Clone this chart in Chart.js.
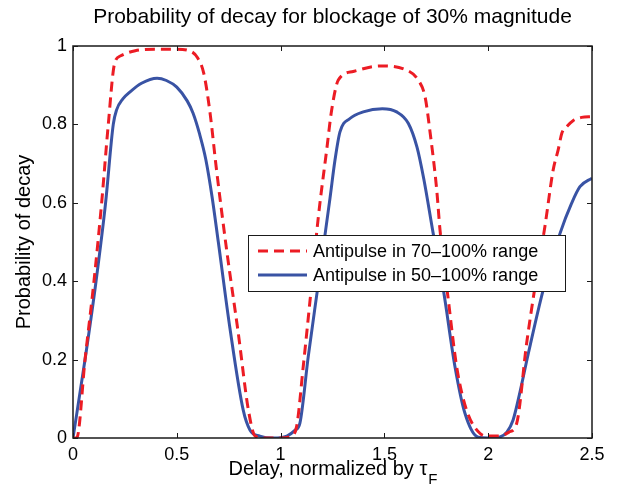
<!DOCTYPE html>
<html lang="en">
  <head>
    <meta charset="UTF-8" />
    <title>Probability of decay for blockage of 30% magnitude</title>
    <script src="https://cdn.jsdelivr.net/npm/chart.js"></script>
    <style>
      html, body {
        margin: 0;
        padding: 0;
        background: #ffffff;
      }
      .chart-wrapper {
        position: relative;
        width: 617px;
        height: 488px;
      }
    </style>
  </head>
  <body>
    <div class="chart-wrapper">
      <canvas id="decayChart" width="617" height="488"></canvas>
    </div>

    <script>
      // data
      const delay70 = [0, 0.018, 0.058, 0.101, 0.138, 0.17, 0.2, 0.23, 0.3, 0.4, 0.5, 0.56, 0.6, 0.63, 0.66, 0.69, 0.74, 0.796, 0.845, 0.877, 0.92, 1.0, 1.05, 1.077, 1.109, 1.142, 1.182, 1.222, 1.246, 1.278, 1.35, 1.48, 1.6, 1.663, 1.696, 1.72, 1.752, 1.768, 1.808, 1.848, 1.896, 1.96, 2.0, 2.057, 2.1, 2.137, 2.185, 2.233, 2.273, 2.313, 2.337, 2.355, 2.38, 2.41, 2.45, 2.5];
      const prob70 = [0, 0, 0.2, 0.4, 0.6, 0.8, 0.955, 0.975, 0.988, 0.992, 0.992, 0.988, 0.97, 0.93, 0.83, 0.69, 0.48, 0.268, 0.071, 0.005, 0, 0, 0.005, 0.029, 0.182, 0.352, 0.565, 0.735, 0.837, 0.913, 0.935, 0.949, 0.94, 0.913, 0.87, 0.78, 0.633, 0.53, 0.352, 0.182, 0.071, 0.012, 0.005, 0.005, 0.015, 0.037, 0.241, 0.411, 0.539, 0.684, 0.735, 0.778, 0.795, 0.81, 0.818, 0.82];

      const delay50 = [0, 0.058, 0.111, 0.157, 0.194, 0.21, 0.24, 0.275, 0.33, 0.405, 0.45, 0.5, 0.55, 0.578, 0.61, 0.64, 0.67, 0.7, 0.756, 0.82, 0.853, 0.9, 0.963, 1.03, 1.07, 1.093, 1.133, 1.182, 1.238, 1.262, 1.286, 1.334, 1.398, 1.49, 1.559, 1.615, 1.657, 1.69, 1.735, 1.784, 1.84, 1.888, 1.952, 2.0, 2.057, 2.09, 2.12, 2.15, 2.193, 2.265, 2.346, 2.402, 2.442, 2.5];
      const prob50 = [0, 0.2, 0.4, 0.6, 0.8, 0.837, 0.865, 0.883, 0.905, 0.918, 0.912, 0.895, 0.86, 0.829, 0.775, 0.71, 0.615, 0.5, 0.28, 0.071, 0.02, 0.005, 0, 0.005, 0.02, 0.038, 0.207, 0.395, 0.612, 0.709, 0.781, 0.815, 0.832, 0.84, 0.832, 0.803, 0.742, 0.66, 0.522, 0.378, 0.182, 0.063, 0.002, 0, 0.003, 0.015, 0.046, 0.11, 0.215, 0.378, 0.522, 0.599, 0.641, 0.663];

      const seriesLabels = ["Antipulse in 70\u2013100% range", "Antipulse in 50\u2013100% range"];
      const xTickValues = [0, 0.5, 1, 1.5, 2, 2.5];
      const yTickValues = [0, 0.2, 0.4, 0.6, 0.8, 1];
      const titleText = "Probability of decay for blockage of 30% magnitude";

      const FONT = "'Liberation Sans', Arial, sans-serif";
      const RED = "#ec1c24";
      const BLUE = "#3953a4";
      const AXIS = "#1a1a1a";

      function toPoints(xs, ys) {
        return xs.map((x, i) => ({ x: x, y: ys[i] }));
      }

      function fmt(v) {
        return String(+Number(v).toFixed(2));
      }

      // MATLAB style box, inward ticks, title over the axes, x label with subscript, legend inside axes
      const axesDecor = {
        id: "axesDecor",
        afterDatasetsDraw(chart) {
          const ctx = chart.ctx;
          const ca = chart.chartArea;
          const xs = chart.scales.x;
          const ys = chart.scales.y;
          const tick = 5;
          const midX = (ca.left + ca.right) / 2;

          ctx.save();
          ctx.strokeStyle = AXIS;
          ctx.lineWidth = 1;
          ctx.beginPath();
          xTickValues.forEach((v) => {
            const px = Math.round(xs.getPixelForValue(v)) + 0.5;
            ctx.moveTo(px, ca.bottom);
            ctx.lineTo(px, ca.bottom - tick);
            ctx.moveTo(px, ca.top);
            ctx.lineTo(px, ca.top + tick);
          });
          yTickValues.forEach((v) => {
            const py = Math.round(ys.getPixelForValue(v)) + 0.5;
            ctx.moveTo(ca.left, py);
            ctx.lineTo(ca.left + tick, py);
            ctx.moveTo(ca.right, py);
            ctx.lineTo(ca.right - tick, py);
          });
          ctx.stroke();
          ctx.lineWidth = 1.5;
          ctx.strokeRect(ca.left, ca.top, ca.right - ca.left, ca.bottom - ca.top);

          // legend box
          const boxW = 317;
          const boxH = 56;
          const boxX = ca.right - 27 - boxW;
          const boxY = ca.top + 189;
          ctx.fillStyle = "#ffffff";
          ctx.fillRect(boxX, boxY, boxW, boxH);
          ctx.lineWidth = 1;
          ctx.strokeStyle = AXIS;
          ctx.strokeRect(boxX + 0.5, boxY + 0.5, boxW, boxH);
          chart.data.datasets.forEach((ds, i) => {
            const cy = boxY + 16 + i * 24;
            ctx.beginPath();
            ctx.strokeStyle = ds.borderColor;
            ctx.lineWidth = ds.borderWidth;
            ctx.setLineDash(ds.borderDash || []);
            ctx.moveTo(boxX + 10, cy);
            ctx.lineTo(boxX + 59, cy);
            ctx.stroke();
            ctx.setLineDash([]);
            ctx.fillStyle = "#000000";
            ctx.font = "18px " + FONT;
            ctx.textBaseline = "middle";
            ctx.textAlign = "left";
            ctx.fillText(ds.label, boxX + 65, cy + 1);
          });

          // title, centred on the axes
          ctx.fillStyle = "#000000";
          ctx.font = "21px " + FONT;
          ctx.textAlign = "center";
          ctx.textBaseline = "middle";
          ctx.fillText(titleText, midX, 17);

          // x axis label: Delay, normalized by tau_F
          const main = "Delay, normalized by \u03c4";
          ctx.font = "20px " + FONT;
          const w1 = ctx.measureText(main).width;
          ctx.font = "15px " + FONT;
          const w2 = ctx.measureText("F").width;
          const startX = midX - (w1 + w2) / 2;
          ctx.textBaseline = "alphabetic";
          ctx.textAlign = "left";
          ctx.font = "20px " + FONT;
          ctx.fillText(main, startX, 475);
          ctx.font = "15px " + FONT;
          ctx.fillText("F", startX + w1 + 1, 484);
          ctx.restore();
        },
      };

      const ctx = document.getElementById("decayChart").getContext("2d");
      new Chart(ctx, {
        type: "line",
        data: {
          datasets: [
            {
              label: seriesLabels[0],
              data: toPoints(delay70, prob70),
              borderColor: RED,
              borderWidth: 3,
              borderDash: [10, 6],
              pointRadius: 0,
              fill: false,
              cubicInterpolationMode: "monotone",
            },
            {
              label: seriesLabels[1],
              data: toPoints(delay50, prob50),
              borderColor: BLUE,
              borderWidth: 3,
              pointRadius: 0,
              fill: false,
              cubicInterpolationMode: "monotone",
            },
          ],
        },
        options: {
          responsive: false,
          animation: false,
          maintainAspectRatio: false,
          layout: { padding: { left: 0, right: 25, top: 46, bottom: 0 } },
          plugins: {
            legend: { display: false },
            tooltip: { enabled: false },
            title: { display: false },
          },
          scales: {
            x: {
              type: "linear",
              min: 0,
              max: 2.5,
              afterBuildTicks: (s) => {
                s.ticks = xTickValues.map((v) => ({ value: v }));
              },
              afterFit: (s) => {
                s.height = 50;
              },
              grid: { display: false, drawTicks: false },
              border: { display: false },
              ticks: {
                color: "#000000",
                padding: 6,
                maxRotation: 0,
                font: { family: FONT, size: 18 },
                callback: (v) => fmt(v),
              },
            },
            y: {
              min: 0,
              max: 1,
              afterBuildTicks: (s) => {
                s.ticks = yTickValues.map((v) => ({ value: v }));
              },
              afterFit: (s) => {
                s.width = 73;
              },
              grid: { display: false, drawTicks: false },
              border: { display: false },
              title: {
                display: true,
                text: "Probability of decay",
                color: "#000000",
                font: { family: FONT, size: 20 },
                padding: { top: 12, bottom: 0 },
              },
              ticks: {
                color: "#000000",
                padding: 6,
                font: { family: FONT, size: 18 },
                callback: (v) => fmt(v),
              },
            },
          },
        },
        plugins: [axesDecor],
      });
    </script>
  </body>
</html>
